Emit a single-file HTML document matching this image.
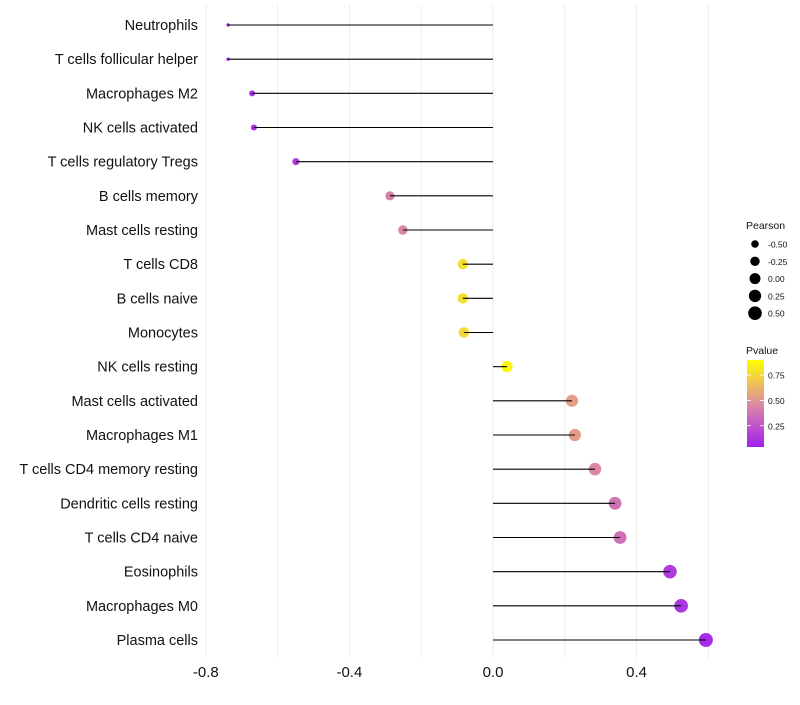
<!DOCTYPE html>
<html><head><meta charset="utf-8"><style>
body{margin:0;background:#fff;font-family:"Liberation Sans",sans-serif}
</style></head><body>
<svg id="c" width="800" height="700" xmlns="http://www.w3.org/2000/svg"></svg>
<script>
const categories=["Neutrophils","T cells follicular helper","Macrophages M2","NK cells activated","T cells regulatory  Tregs","B cells memory","Mast cells resting","T cells CD8","B cells naive","Monocytes","NK cells resting","Mast cells activated","Macrophages M1","T cells CD4 memory resting","Dendritic cells resting","T cells CD4 naive","Eosinophils","Macrophages M0","Plasma cells"];
const pearson=[-0.738,-0.738,-0.671,-0.666,-0.549,-0.287,-0.251,-0.084,-0.084,-0.081,0.039,0.22,0.228,0.284,0.34,0.354,0.493,0.524,0.593];
const pvalues=[0.02,0.02,0.06,0.06,0.12,0.45,0.48,0.86,0.86,0.83,0.97,0.58,0.57,0.47,0.38,0.37,0.12,0.1,0.05];
const xTicks=[-0.8,-0.4,0.0,0.4];
const xTickLabels=["-0.8","-0.4","0.0","0.4"];
const sizeLegend=[-0.5,-0.25,0,0.25,0.5];
const sizeLegendLabels=["-0.50","-0.25","0.00","0.25","0.50"];
const pLegend=[0.75,0.5,0.25];
const pLegendLabels=["0.75","0.50","0.25"];

const NS="http://www.w3.org/2000/svg",svg=document.getElementById('c');
function el(t,a,p){const e=document.createElementNS(NS,t);for(const k in a)e.setAttribute(k,a[k]);(p||svg).appendChild(e);return e;}
const x=v=>493+v*359;
const y=i=>25+i*(615/18);
const r=v=>Math.sqrt(Math.max(1.5,30.2+31.6*v))*(v<-0.7?0.65:1);
function col(p){
  const stops=[[0,[160,32,240]],[0.5,[222,140,160]],[1,[255,255,0]]];
  p=Math.max(0,Math.min(1,p));
  let a=stops[0],b=stops[1];if(p>0.5){a=stops[1];b=stops[2];}
  const t=(p-a[0])/(b[0]-a[0]);
  const c=a[1].map((v,k)=>Math.round(v+(b[1][k]-v)*t));
  return `rgb(${c})`;
}
for(let v=-0.8;v<=0.61;v+=0.2){const g=el('line',{x1:x(v),x2:x(v),y1:5,y2:658,stroke:'#ebebeb','stroke-width':1});}
xTicks.forEach((v,i)=>{const t=el('text',{x:x(v),y:677,'text-anchor':'middle','font-size':15,fill:'#111'});t.textContent=xTickLabels[i];});
categories.forEach((c,i)=>{
  const t=el('text',{x:198,y:y(i)+5,'text-anchor':'end','font-size':14.5,fill:'#111'});t.textContent=c;
  
  const d=el('circle',{cx:x(pearson[i]),cy:y(i),r:r(pearson[i]),fill:col(pvalues[i])});
  
});
categories.forEach((c,i)=>{
  const l=el('line',{x1:x(0),x2:x(pearson[i]),y1:y(i),y2:y(i),stroke:'#000','stroke-width':1.1});
  
});
let t=el('text',{x:746,y:229,'font-size':10.5,fill:'#111'});t.textContent='Pearson';
sizeLegend.forEach((v,i)=>{const yy=244+i*17.3;
  const d=el('circle',{cx:755,cy:yy,r:r(v),fill:'#000'});
  const s=el('text',{x:768,y:yy+3.5,'font-size':8.5,fill:'#111'});s.textContent=sizeLegendLabels[i];});
t=el('text',{x:746,y:354,'font-size':10.5,fill:'#111'});t.textContent='Pvalue';
const defs=el('defs',{});const lg=el('linearGradient',{id:'pg',x1:0,y1:1,x2:0,y2:0},defs);
[[0,0],[0.5,0.5],[1,1]].forEach(s=>el('stop',{offset:s[0],'stop-color':col(s[1])},lg));
const bar=el('rect',{x:747,y:360,width:17,height:87,fill:'url(#pg)'});
const py=p=>447-(p-0.04)/0.86*87;
pLegend.forEach((p,i)=>{const yy=py(p);
  el('line',{x1:747,x2:751,y1:yy,y2:yy,stroke:'#fff','stroke-width':0.8});el('line',{x1:760,x2:764,y1:yy,y2:yy,stroke:'#fff','stroke-width':0.8});
  const s=el('text',{x:768,y:yy+3.5,'font-size':8.5,fill:'#111'});s.textContent=pLegendLabels[i];});
</script>
</body></html>
